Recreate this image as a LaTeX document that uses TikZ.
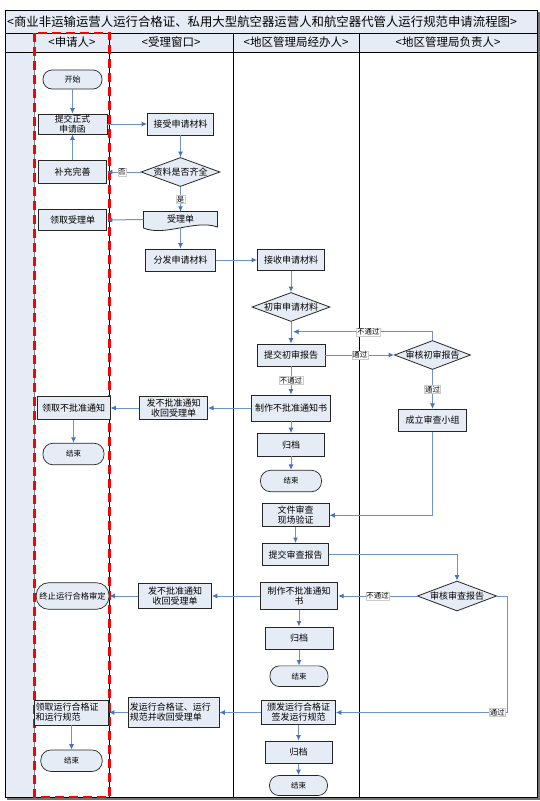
\documentclass[tikz,border=0pt]{standalone}
\usepackage{fontspec}
\setmainfont{Noto Sans CJK SC}
\usetikzlibrary{shapes.geometric,arrows.meta}
\definecolor{nfill}{HTML}{E6ECF6}
\definecolor{lanefill}{HTML}{E6ECF6}
\definecolor{lineblue}{HTML}{6F93C9}
\definecolor{tipblue}{HTML}{4472C4}
\definecolor{dashred}{HTML}{FF0000}
\tikzset{
  base/.style={draw=black!85, fill=nfill, line width=0.8pt, inner sep=0.5pt, font=\fontsize{9}{10}\selectfont},
  proc/.style={base, rectangle, align=center},
  term/.style={base, rectangle, align=center, rounded corners=#1, line width=0.7pt, font=\fontsize{7.5}{9}\selectfont},
  dec/.style={base, diamond, inner sep=0pt},
  conn/.style={draw=lineblue, line width=1pt, -{Latex[length=5.5pt,width=5pt,color=tipblue]}},
  lbl/.style={fill=white, draw=black!20, line width=0.3pt, inner sep=0.6pt, font=\fontsize{7.4}{8}\selectfont, text=black},
  hdr/.style={font=\fontsize{11.5}{12}\selectfont, inner sep=0pt},
}
\begin{document}
\begin{tikzpicture}[x=1pt,y=-1pt]
\useasboundingbox (0,0) rectangle (540,801);
\fill[white] (0,0) rectangle (540,801);
% frame and lanes
\fill[lanefill] (5,10) rectangle (537,52);
\fill[lanefill] (5,52) rectangle (34.5,797);
\draw[black!55, line width=2pt] (538.5,12) -- (538.5,798.5) -- (7,798.5);
\draw[black, line width=0.9pt] (5,10) rectangle (537,797);
\draw[black, line width=0.8pt] (5,33) -- (537,33);
\draw[black, line width=0.8pt] (5,52) -- (537,52);
\draw[black!50, line width=0.8pt] (34.5,33) -- (34.5,797);
\draw[black, line width=0.8pt] (109.5,33) -- (109.5,797);
\draw[black, line width=0.8pt] (233,33) -- (233,797);
\draw[black, line width=0.8pt] (359,33) -- (359,797);
\draw[dashred, line width=2.2pt, dash pattern=on 9pt off 5pt] (34.5,33) rectangle (109.5,797);

\node[anchor=west, font=\fontsize{12.4}{14}\selectfont, inner sep=0pt] (title) at (7,21.5) {<商业非运输运营人运行合格证、私用大型航空器运营人和航空器代管人运行规范申请流程图>};
\node[hdr] (h1) at (72,42.5) {<申请人>};
\node[hdr] (h2) at (171,42.5) {<受理窗口>};
\node[hdr] (h3) at (296,42.5) {<地区管理局经办人>};
\node[hdr] (h4) at (448,42.5) {<地区管理局负责人>};

% nodes
\node[term=9pt, font=\fontsize{8}{9}\selectfont, minimum width=59pt, minimum height=19pt] (start) at (72.5,79.5) {开始};
\node[proc, font=\fontsize{8.8}{9.5}\selectfont, minimum width=69pt, minimum height=20pt, inner sep=0pt] (submit) at (72.5,124) {提交正式\\申请函};
\node[proc, minimum width=66pt, minimum height=22pt] (recv) at (180.5,124) {接受申请材料};
\node[proc, minimum width=68pt, minimum height=23pt] (supp) at (72.5,172) {补充完善};
\node[dec, minimum width=79pt, minimum height=29pt] (check) at (180.5,172) {\makebox[0pt]{资料是否齐全}};
\node[proc, minimum width=68pt, minimum height=21pt] (getacc) at (72.5,220) {领取受理单};
\fill[nfill] (143.5,211.5) -- (217.5,211.5) -- (217.5,227) .. controls (195,219) and (165,237) .. (143.5,228) -- cycle;
\draw[black!85, line width=0.8pt] (143.5,211.5) -- (217.5,211.5) -- (217.5,227) .. controls (195,219) and (165,237) .. (143.5,228) -- cycle;
\node[minimum width=74pt, minimum height=15pt, inner sep=0pt, font=\fontsize{9}{10}\selectfont] (accdoc) at (180.5,219.5) {受理单};
\node[proc, minimum width=70pt, minimum height=22pt] (dispatch) at (180.5,260) {分发申请材料};
\node[proc, minimum width=67pt, minimum height=21pt] (recv2) at (291,260) {接收申请材料};
\node[dec, minimum width=78pt, minimum height=29pt] (prelim) at (291,307) {\makebox[0pt]{初审申请材料}};
\node[proc, minimum width=68pt, minimum height=22pt] (report1) at (291,355) {提交初审报告};
\node[dec, minimum width=76pt, minimum height=29pt] (review1) at (432.5,355) {\makebox[0pt]{审核初审报告}};
\coordinate (fb) at (293,331.7);
\node[proc, minimum width=79pt, minimum height=26pt] (reject1) at (291,408) {制作不批准通知书};
\node[proc, minimum width=68pt, minimum height=23pt, inner sep=0pt] (notify1) at (173.6,408) {发不批准通知\\收回受理单};
\node[proc, minimum width=73pt, minimum height=23pt] (getrej) at (73.5,408) {领取不批准通知};
\node[term=10pt, minimum width=61pt, minimum height=21.6pt] (end1) at (73.5,454) {结束};
\node[proc, minimum width=67.6pt, minimum height=22.4pt] (arch1) at (291,444.7) {归档};
\node[term=10pt, minimum width=61pt, minimum height=21.4pt] (end2) at (291,481) {结束};
\node[proc, minimum width=67.6pt, minimum height=22pt] (team) at (432.5,420.3) {成立审查小组};
\node[proc, minimum width=67pt, minimum height=23pt, inner sep=0pt] (docrev) at (295.5,515.3) {文件审查\\现场验证};
\node[proc, minimum width=66.6pt, minimum height=22.4pt] (report2) at (295.5,554.6) {提交审查报告};
\node[dec, minimum width=79.3pt, minimum height=30pt] (review2) at (457,596) {\makebox[0pt]{审核审查报告}};
\node[proc, minimum width=77.6pt, minimum height=26.6pt, inner sep=0pt] (reject2) at (299,596) {制作不批准通知\\书};
\node[proc, minimum width=72.8pt, minimum height=25pt, inner sep=0pt] (notify2) at (175,596) {发不批准通知\\收回受理单};
\node[term=12.5pt, font=\fontsize{8.3}{9}\selectfont, minimum width=72.8pt, minimum height=26.6pt] (terminate) at (72.6,596) {终止运行合格审定};
\node[proc, minimum width=68pt, minimum height=22.8pt] (arch2) at (299,638.3) {归档};
\node[term=9.5pt, minimum width=58pt, minimum height=20.7pt] (end3) at (299,676.2) {结束};
\coordinate (pass2) at (507.6,712.5);
\node[proc, minimum width=73.8pt, minimum height=24.1pt, inner sep=0pt] (issue) at (298.5,712.5) {颁发运行合格证\\签发运行规范};
\node[proc, minimum width=90.4pt, minimum height=30.4pt, inner sep=0pt, text width=88pt, align=left] (send) at (173.8,712.5) {发运行合格证、运行\\规范并收回受理单};
\node[proc, minimum width=74pt, minimum height=25pt, inner sep=0pt, text width=72pt, align=left] (getcert) at (71.5,712.5) {领取运行合格证\\和运行规范};
\node[term=10pt, minimum width=61.4pt, minimum height=21.4pt] (end4) at (71.5,760.7) {结束};
\node[proc, minimum width=67pt, minimum height=22.4pt] (arch3) at (298.5,752.2) {归档};
\node[term=9.5pt, minimum width=58pt, minimum height=20pt] (end5) at (298.5,785.5) {结束};

% connectors
\draw[conn] (start.south) -- (submit.north);
\draw[conn] (submit.east) -- (recv.west);
\draw[conn] (recv.south) -- (check.north);
\draw[conn] (check.west) -- node[lbl, pos=0.55]{否} (supp.east);
\draw[conn] (supp.north) -- (submit.south);
\draw[conn] (check.south) -- node[lbl]{是} (accdoc.north);
\draw[conn] (accdoc.west) -- (getacc.east);
\draw[conn] (accdoc.south) -- (dispatch.north);
\draw[conn] (dispatch.east) -- (recv2.west);
\draw[conn] (recv2.south) -- (prelim.north);
\draw[conn] (prelim.south) -- (report1.north);
\draw[conn] (report1.east) -- node[lbl]{通过} (review1.west);
\draw[conn] (review1.north) |- node[lbl, pos=0.73]{不通过} (fb);
\draw[conn] (review1.south) -- node[lbl]{通过} (team.north);
\draw[conn] (report1.south) -- node[lbl]{不通过} (reject1.north);
\draw[conn] (reject1.west) -- (notify1.east);
\draw[conn] (notify1.west) -- (getrej.east);
\draw[conn] (getrej.south) -- (end1.north);
\draw[conn] (reject1.south) -- (arch1.north);
\draw[conn] (arch1.south) -- (end2.north);
\draw[conn] (team.south) |- (docrev.east);
\draw[conn] (docrev.south) -- (report2.north);
\draw[conn] (report2.east) -| (review2.north);
\draw[conn] (review2.west) -- node[lbl]{不通过} (reject2.east);
\draw[conn] (reject2.west) -- (notify2.east);
\draw[conn] (notify2.west) -- (terminate.east);
\draw[conn] (reject2.south) -- (arch2.north);
\draw[conn] (arch2.south) -- (end3.north);
\draw[conn] (review2.east) -| (pass2) -- node[lbl, pos=0.06]{通过} (issue.east);
\draw[conn] (issue.west) -- (send.east);
\draw[conn] (send.west) -- (getcert.east);
\draw[conn] (getcert.south) -- (end4.north);
\draw[conn] (issue.south) -- (arch3.north);
\draw[conn] (arch3.south) -- (end5.north);
\end{tikzpicture}
\end{document}
